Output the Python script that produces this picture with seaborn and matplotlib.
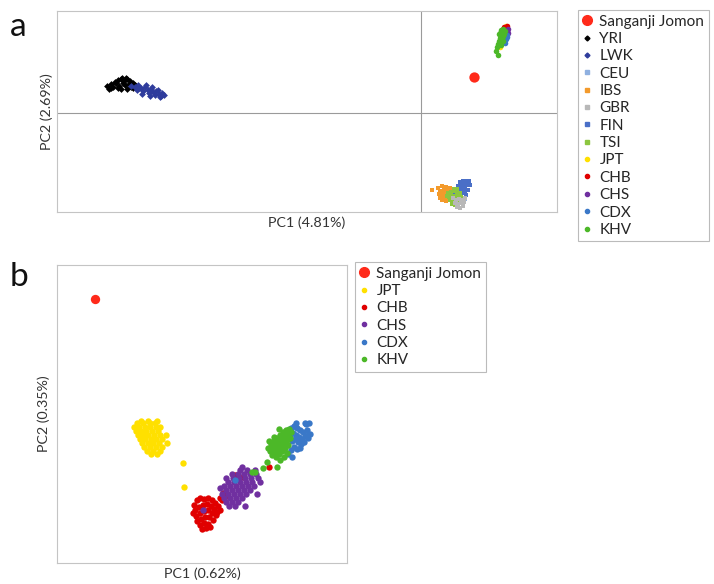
import matplotlib
matplotlib.use('Agg')
import matplotlib.pyplot as plt
from matplotlib.lines import Line2D
import pandas as pd
import seaborn as sns

# PCA scores (arbitrary units, x1000)

# --- panel a: worldwide PCA ---
a_jomon_pc1 = [53]
a_jomon_pc2 = [36]

yri_pc1 = [-314, -310, -306, -303, -300, -297, -294, -291, -288, -286, -308, -302, -296, -290, -300, -294,
           -305, -298, -292, -288, -310, -303, -312, -299, -295]
yri_pc2 = [27, 29, 31, 33, 34, 32, 34, 32, 30, 28, 26, 27, 28, 26, 24, 24,
           30, 30, 29, 25, 25, 25, 24, 35, 35]

lwk_pc1 = [-290, -286, -283, -280, -276, -273, -270, -268, -265, -262, -259, -257, -278, -272, -266, -261,
           -284, -275, -269, -263, -260, -282, -279, -271]
lwk_pc2 = [27, 26, 28, 25, 26, 23, 24, 21, 22, 19, 20, 18, 22, 20, 18, 16,
           23, 28, 26, 23, 17, 25, 19, 17]

ceu_pc1 = [36, 40, 44, 38, 42]
ceu_pc2 = [-84, -82, -86, -88, -78]

ibs_pc1 = [11, 17, 19, 21, 23, 25, 27, 29, 18, 20, 22, 24, 26, 19, 23, 27, 21, 25]
ibs_pc2 = [-77, -75, -78, -73, -76, -74, -77, -75, -81, -80, -82, -79, -81, -85, -85, -84, -87, -88]

gbr_pc1 = [32, 35, 38, 41, 44, 34, 37, 40, 43, 36, 39, 42]
gbr_pc2 = [-85, -87, -86, -87, -85, -90, -91, -90, -89, -94, -95, -93]

fin_pc1 = [39, 42, 45, 48, 37, 40, 43, 46, 49, 35, 38, 41, 44, 47, 36, 40, 44, 34, 45]
fin_pc2 = [-69, -68, -68, -68, -73, -72, -72, -72, -72, -76, -76, -76, -76, -77, -80, -80, -80, -79, -82]

tsi_pc1 = [27, 30, 33, 36, 39, 28, 31, 34, 37, 40, 29, 32, 35, 38, 31, 34, 37, 26, 33, 36]
tsi_pc2 = [-80, -79, -78, -79, -80, -84, -83, -83, -83, -84, -87, -88, -87, -87, -91, -92, -91, -83, -76, -76]

a_jpt_pc1 = [82, 84, 81, 79, 83, 85]
a_jpt_pc2 = [82, 84, 78, 66, 80, 87]
a_chb_pc1 = [83, 85, 82, 84, 86]
a_chb_pc2 = [86, 85, 84, 82, 87]
a_chs_pc1 = [86, 85, 87, 84, 87]
a_chs_pc2 = [82, 79, 80, 76, 84]
a_cdx_pc1 = [86, 85, 83, 86, 84]
a_cdx_pc2 = [78, 74, 72, 76, 70]
a_khv_pc1 = [78, 79, 80, 81, 82, 77, 76, 78, 80, 81, 83, 79, 75, 77, 82, 80, 84, 82, 80, 78]
a_khv_pc2 = [72, 75, 78, 81, 84, 69, 66, 68, 72, 75, 79, 80, 62, 58, 77, 68, 82, 72, 83, 79]

# --- panel b: East Asian PCA ---
b_jomon_pc1 = [-105]
b_jomon_pc2 = [121]

jpt_pc1 = [-59, -52, -43, -63, -57, -50, -45, -66, -61, -55, -50, -44, -40, -64, -59, -54, -48, -42,
           -62, -57, -52, -46, -40, -34, -60, -55, -49, -44, -38, -58, -52, -47, -41, -33, -56, -50, -44,
           -38, -53, -47, -40, -49, -43, -17, -16]
jpt_pc2 = [-1, -1, -1, -3, -3, -3, -3, -7, -7, -7, -7, -7, -7, -11, -11, -11, -11, -11,
           -15, -15, -15, -15, -15, -15, -19, -19, -19, -19, -19, -23, -23, -23, -23, -23, -27, -27, -27,
           -27, -31, -31, -31, -34, -34, -43, -67]

chb_pc1 = [-6, -3, 0, 4, 8, 12, 15, -5, -1, 3, 7, 11, 14, -4, 0, 4, 8, 12, 16, -3, 1, 5, 9, 13,
           0, 4, 8, 2, 6, 18, 22, 26, 35, 43, 69, 20, 23, 20, -7, 10, 17]
chb_pc2 = [-85, -80, -78, -79, -78, -80, -83, -90, -87, -85, -84, -86, -89, -96, -93, -91, -90, -93, -95,
           -101, -99, -97, -97, -100, -105, -103, -104, -109, -108, -86, -80, -76, -55, -57, -47, -90, -73,
           -78, -93, -107, -92]

chs_pc1 = [40, 47, 55, 32, 38, 44, 50, 56, 26, 33, 39, 45, 51, 58, 28, 34, 40, 46, 52, 24, 30, 36, 42,
           48, 54, 26, 32, 38, 44, 50, 22, 28, 34, 40, 46, 57, 24, 30, 36, 42, 26, 32, 38, 29, 35, 45,
           42, 60, 3, 20]
chs_pc2 = [-50, -50, -50, -54, -54, -54, -54, -54, -58, -58, -58, -58, -58, -58, -62, -62, -62, -62, -62,
           -66, -66, -66, -66, -66, -66, -70, -70, -70, -70, -70, -74, -74, -74, -74, -74, -74, -78, -78,
           -78, -78, -82, -82, -82, -86, -86, -86, -47, -62, -90, -68]

cdx_pc1 = [88, 91, 94, 97, 100, 103, 90, 93, 96, 99, 102, 105, 92, 95, 98, 101, 104, 108, 94, 97, 100,
           91, 88, 107, 110, 106, 109, 96, 95, 105, 108, 92, 35]
cdx_pc2 = [-10, -8, -6, -8, -10, -12, -15, -13, -15, -17, -19, -16, -21, -19, -22, -24, -22, -18, -27,
           -29, -28, -30, -34, -10, -14, -4, -3, -3, -6, -3, -15, -37, -60]

khv_pc1 = [68, 71, 74, 77, 80, 83, 86, 89, 70, 73, 76, 79, 82, 85, 88, 72, 75, 78, 81, 84, 87, 90,
           76, 79, 82, 85, 88, 80, 84, 87, 74, 69, 91, 55, 63, 67, 77, 79, 52]
khv_pc2 = [-28, -24, -21, -18, -15, -12, -10, -9, -31, -28, -25, -22, -19, -16, -14, -35, -32, -29, -26,
           -23, -20, -18, -37, -34, -31, -28, -25, -40, -37, -33, -17, -21, -12, -52, -48, -42, -47, -9, -52]

# population names and colours
pops_a = ['YRI', 'LWK', 'CEU', 'IBS', 'GBR', 'FIN', 'TSI', 'JPT', 'CHB', 'CHS', 'CDX', 'KHV']
pops_b = ['JPT', 'CHB', 'CHS', 'CDX', 'KHV']
colors = {'Sanganji Jomon': '#ff2a1a', 'YRI': '#000000', 'LWK': '#2f3c9c', 'CEU': '#8fb0e0',
          'IBS': '#f39a2b', 'GBR': '#b8b8b8', 'FIN': '#4a6fc7', 'TSI': '#8cc63f',
          'JPT': '#ffe000', 'CHB': '#e00000', 'CHS': '#7030a0', 'CDX': '#3a78c8', 'KHV': '#4cb828'}
markers = {'YRI': 'D', 'LWK': 'D', 'CEU': 's', 'IBS': 's', 'GBR': 's', 'FIN': 's', 'TSI': 's',
           'JPT': 'o', 'CHB': 'o', 'CHS': 'o', 'CDX': 'o', 'KHV': 'o'}

df_a = pd.concat([
    pd.DataFrame({'pop': p, 'PC1': x, 'PC2': y}) for p, x, y in [
        ('YRI', yri_pc1, yri_pc2), ('LWK', lwk_pc1, lwk_pc2), ('CEU', ceu_pc1, ceu_pc2),
        ('IBS', ibs_pc1, ibs_pc2), ('FIN', fin_pc1, fin_pc2), ('TSI', tsi_pc1, tsi_pc2),
        ('GBR', gbr_pc1, gbr_pc2),
        ('JPT', a_jpt_pc1, a_jpt_pc2), ('CHB', a_chb_pc1, a_chb_pc2), ('CHS', a_chs_pc1, a_chs_pc2),
        ('CDX', a_cdx_pc1, a_cdx_pc2), ('KHV', a_khv_pc1, a_khv_pc2)]
], ignore_index=True)

df_b = pd.concat([
    pd.DataFrame({'pop': p, 'PC1': x, 'PC2': y}) for p, x, y in [
        ('JPT', jpt_pc1, jpt_pc2), ('CHB', chb_pc1, chb_pc2), ('CHS', chs_pc1, chs_pc2),
        ('CDX', cdx_pc1, cdx_pc2), ('KHV', khv_pc1, khv_pc2)]
], ignore_index=True)

sns.set_style('white')
plt.rcParams['font.family'] = ['Lato', 'DejaVu Sans']

fig = plt.figure(figsize=(7.14, 5.84), dpi=100)
ax_a = fig.add_axes([0.080, 0.637, 0.700, 0.344])
ax_b = fig.add_axes([0.080, 0.036, 0.406, 0.510])

# panel a
for p, grp in df_a.groupby('pop', sort=False):
    sns.scatterplot(data=grp, x='PC1', y='PC2', ax=ax_a, color=colors[p], marker=markers[p],
                    s=16 if markers[p] == 'o' else 12, linewidth=0, legend=False)
sns.scatterplot(x=a_jomon_pc1, y=a_jomon_pc2, ax=ax_a, color=colors['Sanganji Jomon'], s=55,
                linewidth=0, legend=False)
ax_a.axvline(0, color='#9a9a9a', lw=0.8, zorder=0)
ax_a.axhline(0, color='#9a9a9a', lw=0.8, zorder=0)
ax_a.set_xlim(-364, 136)
ax_a.set_ylim(-99, 102)
ax_a.set_xlabel('PC1 (4.81%)', fontsize=10.3, color='#333333', labelpad=3)
ax_a.set_ylabel('PC2 (2.69%)', fontsize=10.3, color='#333333', labelpad=3)

# panel b
for p, grp in df_b.groupby('pop', sort=False):
    sns.scatterplot(data=grp, x='PC1', y='PC2', ax=ax_b, color=colors[p], s=21, linewidth=0, legend=False)
sns.scatterplot(x=b_jomon_pc1, y=b_jomon_pc2, ax=ax_b, color=colors['Sanganji Jomon'], s=45,
                linewidth=0, legend=False)
ax_b.set_xlim(-143, 147)
ax_b.set_ylim(-143, 155)
ax_b.set_xlabel('PC1 (0.62%)', fontsize=10.3, color='#333333', labelpad=3)
ax_b.set_ylabel('PC2 (0.35%)', fontsize=10.3, color='#333333', labelpad=5)

for ax in (ax_a, ax_b):
    ax.set_xticks([])
    ax.set_yticks([])
    for sp in ax.spines.values():
        sp.set_color('#c4c4c4')
        sp.set_linewidth(0.8)


def legend_handles(names):
    hs = [Line2D([], [], ls='none', marker='o', markersize=7, color=colors['Sanganji Jomon'],
                 label='Sanganji Jomon')]
    for n in names:
        m = markers[n]
        hs.append(Line2D([], [], ls='none', marker=m, markersize=2.5 if m != 'o' else 3,
                         color=colors[n], label=n))
    return hs


leg_kw = dict(loc='upper left', bbox_transform=fig.transFigure, frameon=True, fancybox=False,
              edgecolor='#aaaaaa', fontsize=11, handlelength=0.6, handletextpad=0.5, labelspacing=0.22,
              borderpad=0.3, borderaxespad=0)
leg_a = ax_a.legend(handles=legend_handles(pops_a), bbox_to_anchor=(578 / 714, 1 - 10 / 584), **leg_kw)
leg_b = ax_b.legend(handles=legend_handles(pops_b), bbox_to_anchor=(355 / 714, 1 - 262 / 584), **leg_kw)
for leg in (leg_a, leg_b):
    leg.get_frame().set_linewidth(0.8)

fig.text(10 / 714, 1 - 36 / 584, 'a', fontsize=24, color='#111111')
fig.text(10 / 714, 1 - 286 / 584, 'b', fontsize=24, color='#111111')

fig.savefig('out.png', dpi=100)
